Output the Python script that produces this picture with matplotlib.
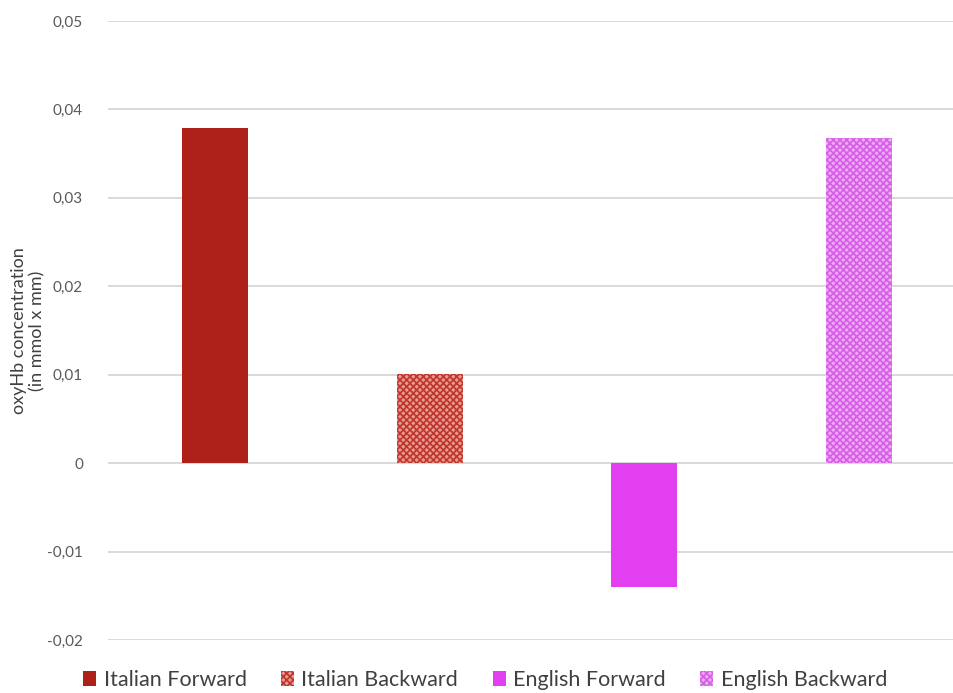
import matplotlib.pyplot as plt
from matplotlib.ticker import FuncFormatter, MultipleLocator
from matplotlib.patches import Patch

# data
series = ["Italian Forward", "Italian Backward", "English Forward", "English Backward"]
values = [0.0379, 0.0101, -0.0140, 0.0368]
face_colors = ["#ae2118", "#e59a93", "#e23ff0", "#eeaaf5"]
hatch_colors = [None, "#c0362c", None, "#d65ee6"]

plt.rcParams['font.family'] = ['Lato', 'DejaVu Sans']
plt.rcParams['hatch.linewidth'] = 1.2

fig = plt.figure(figsize=(9.54, 6.93), dpi=100)
ax = fig.add_axes([108 / 954, 1 - 640 / 693, 1 - 108 / 954, (640 - 21) / 693])

x = list(range(len(series)))
for i, (v, fc, hc) in enumerate(zip(values, face_colors, hatch_colors)):
    ax.bar(x[i], v, width=0.31, color=fc, zorder=3, linewidth=0)
    if hc:
        ax.bar(x[i], v, width=0.31, facecolor='none', edgecolor=hc,
               hatch='xxxxx', linewidth=0, zorder=4)

ax.set_xlim(-0.5, 3.5 - 12 / 214.5)
ax.set_ylim(-0.02, 0.05)
ax.yaxis.set_major_locator(MultipleLocator(0.01))


def fmt(v, _):
    if abs(v) < 1e-9:
        return "0"
    return f"{v:.2f}".replace('.', ',')


ax.yaxis.set_major_formatter(FuncFormatter(fmt))
ax.grid(axis='y', color='#d9d9d9', linewidth=1.4, zorder=0)
ax.set_xticks([])
for s in ax.spines.values():
    s.set_visible(False)
ax.tick_params(axis='y', length=0, pad=18, labelsize=11, labelcolor='#595959')
ax.set_ylabel("oxyHb concentration\n(in mmol x mm)", fontsize=13, color='#404040',
              labelpad=1.5, linespacing=1.15)

handles = []
for name, fc, hc in zip(series, face_colors, hatch_colors):
    if hc:
        handles.append(Patch(facecolor=fc, edgecolor=hc, hatch='xxxxx', linewidth=0, label=name))
    else:
        handles.append(Patch(facecolor=fc, linewidth=0, label=name))

fig.legend(handles=handles, loc='center', bbox_to_anchor=(485 / 954, 13 / 693),
           ncol=4, frameon=False, handlelength=0.6, handleheight=0.7,
           handletextpad=0.35, columnspacing=1.6,
           prop={'family': ['Lato', 'DejaVu Sans'], 'size': 15.5},
           labelcolor='#404040')

fig.savefig("out.png", dpi=100)
